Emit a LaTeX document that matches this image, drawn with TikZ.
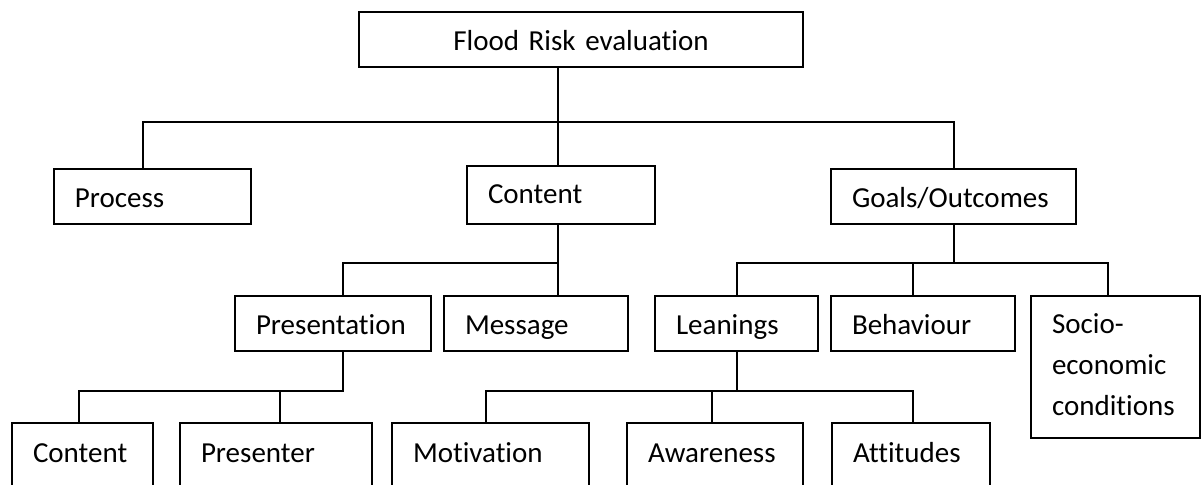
\documentclass[tikz,border=0pt]{standalone}
\usepackage{fontspec}
\setmainfont{Carlito}[Ligatures={NoCommon,NoRequired,NoContextual},Contextuals=NoAlternate]
\usepackage{tikz}
\usetikzlibrary{positioning}
\newcommand{\boxfont}{\fontsize{14.5pt}{20.5pt}\selectfont}
\tikzset{
  node-box/.style={draw=black,line width=0.9pt,anchor=north west,
    inner xsep=10.5pt,inner ysep=0pt,outer sep=0pt,align=left,font=\boxfont,
    minimum height=27.5pt,text height=13pt,text depth=2pt},
  % bottom row runs past the lower edge
  node-low/.style={minimum height=50pt,text height=12pt,text depth=22pt},
  link/.style={line width=0.9pt,draw=black},
}
\begin{document}
\begin{tikzpicture}[x=0.5pt,y=-0.5pt]
  \useasboundingbox (0,0) rectangle (1201,485);
  \clip (0,0) rectangle (1201,485);
  \node[node-box,align=center,text width=201pt] (root) at (359,12) {Flood Risk evaluation};
  \node[node-box,text width=77.5pt] (process) at (54,169) {Process};
  \node[node-box,text width=73pt,minimum height=29pt,text height=12pt,text depth=3pt] (content) at (467,166) {Content};
  \node[node-box,text width=101.5pt] (goals) at (831,169) {Goals/Outcomes};
  \node[node-box,text width=77pt] (presentation) at (235,296) {Presentation};
  \node[node-box,text width=71pt,right=6.5pt of presentation] (message) {Message};
  \node[node-box,text width=60.5pt,right=13.5pt of message] (leanings) {Leanings};
  \node[node-box,text width=71pt,right=6.5pt of leanings] (behaviour) {Behaviour};
  \node[node-box,text width=63.5pt,minimum height=71pt,text depth=46pt,
    right=8pt of behaviour.north east,anchor=north west] (socio) {Socio-\\economic\\conditions};
  \node[node-box,node-low,text width=49.5pt] (pcontent) at (12,423) {Content};
  \node[node-box,node-low,text width=75pt,right=13.5pt of pcontent] (presenter) {Presenter};
  \node[node-box,node-low,text width=77.5pt,right=10pt of presenter] (motivation) {Motivation};
  \node[node-box,node-low,text width=67pt,right=19pt of motivation] (awareness) {Awareness};
  \node[node-box,node-low,text width=58pt,right=14.5pt of awareness] (attitudes) {Attitudes};

  \coordinate (b1) at (558,122);
  \coordinate (b2) at (558,263);
  \coordinate (b3) at (954,263);
  \coordinate (b4) at (343,391);
  \coordinate (b5) at (737,391);

  \draw[link] ([xshift=-11.5pt]root.south) -- ([xshift=-1.5pt]content.north);
  \draw[link] ([xshift=-4.75pt]process.north) |- (b1) -| ([xshift=0.25pt]goals.north);
  \draw[link] ([xshift=-1.5pt]content.south) -- ([xshift=11pt]message.north);
  \draw[link] (b2) -| ([xshift=5pt]presentation.north);
  \draw[link] ([xshift=0.25pt]goals.south) -- (b3);
  \draw[link] ([xshift=0.25pt]leanings.north) |- (b3) -| ([xshift=-3.75pt]socio.north);
  \draw[link] ([xshift=-5pt]behaviour.north) |- (b3);
  \draw[link] ([xshift=5pt]presentation.south) |- (b4) -| ([xshift=-1.75pt]pcontent.north);
  \draw[link] ([xshift=2pt]presenter.north) |- (b4);
  \draw[link] ([xshift=0.25pt]leanings.south) |- (b5) -| ([xshift=1pt]attitudes.north);
  \draw[link] ([xshift=-2.25pt]motivation.north) |- (b5);
  \draw[link] ([xshift=-1.5pt]awareness.north) |- (b5);
\end{tikzpicture}
\end{document}
